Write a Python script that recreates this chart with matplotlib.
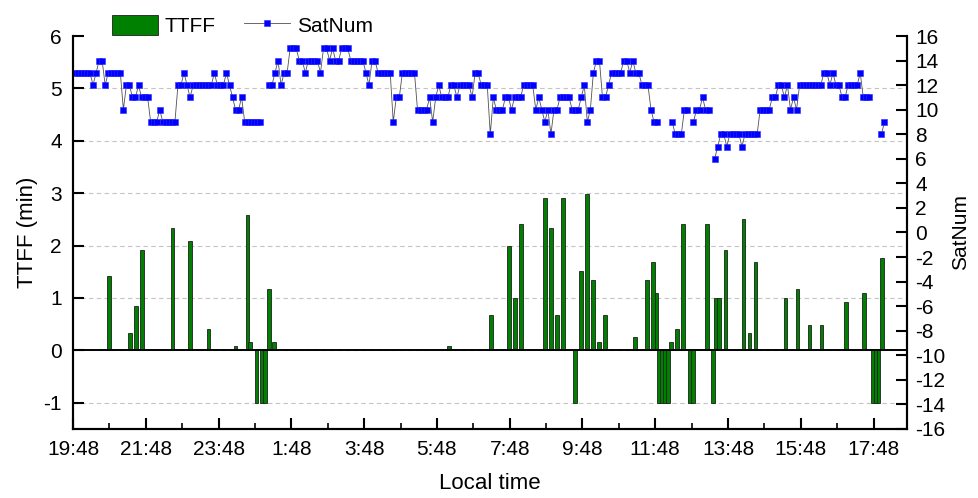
import numpy as np
import matplotlib.pyplot as plt
from matplotlib.ticker import MultipleLocator

plt.rcParams['font.family'] = ['Liberation Sans', 'DejaVu Sans']
plt.rcParams['axes.unicode_minus'] = False

# x axis: hours after 19:48 local time
tick_labels = ['19:48', '21:48', '23:48', '1:48', '3:48', '5:48', '7:48',
               '9:48', '11:48', '13:48', '15:48', '17:48']

# TTFF per fix attempt (min), -1 = no fix
ttff_time = [0.99, 1.57, 1.73, 1.90, 2.73, 3.22, 3.72, 4.46, 4.79, 4.87,
             5.04, 5.20, 5.28, 5.38, 5.53, 10.33, 11.48, 11.98, 12.14, 12.31,
             12.97, 13.13, 13.30, 13.46, 13.79, 13.96, 14.12, 14.29, 14.45, 14.62,
             15.45, 15.78, 15.94, 16.03, 16.11, 16.18, 16.26, 16.35, 16.44, 16.60,
             16.77, 16.95, 17.03, 17.43, 17.59, 17.67, 17.76, 17.93, 18.43, 18.59,
             18.76, 19.58, 19.91, 20.24, 20.57, 21.24, 21.73, 21.99, 22.06, 22.14,
             22.23]
ttff_min = [1.42, 0.33, 0.85, 1.91, 2.33, 2.08, 0.41, 0.08, 2.58, 0.16,
            -1, -1, -1, 1.18, 0.16, 0.08, 0.67, 1.99, 1.0, 2.42,
            2.9, 2.33, 0.67, 2.9, -1, 1.51, 2.99, 1.34, 0.16, 0.67,
            0.25, 1.34, 1.68, 1.09, -1, -1, -1, -1, 0.16, 0.40,
            2.42, -1, -1, 2.42, -1, 1.0, 1.0, 1.91, 2.5, 0.33,
            1.68, 1.0, 1.17, 0.49, 0.49, 0.92, 1.09, -1, -1, -1,
            1.76]

# satellites in view, one sample every 5 minutes from 19:51 (nan = no data)
nan = np.nan
sat_num = [13, 13, 13, 13, 13, 13, 12, 13, 14, 14,
           12, 13, 13, 13, 13, 13, 10, 12, 12, 11,
           11, 12, 11, 11, 11, 9, 9, 9, 10, 9,
           9, 9, 9, 9, 12, 12, 13, 12, 11, 12,
           12, 12, 12, 12, 12, 12, 13, 12, 12, 12,
           13, 12, 11, 10, 10, 11, 9, 9, 9, 9,
           9, 9, nan, nan, 12, 12, 13, 14, 12, 13,
           13, 15, 15, 15, 14, 14, 13, 14, 14, 14,
           14, 13, 15, 15, 14, 15, 14, 14, 15, 15,
           15, 14, 14, 14, 14, 14, 13, 12, 14, 14,
           13, 13, 13, 13, 13, 9, 11, 11, 13, 13,
           13, 13, 13, 10, 10, 10, 10, 11, 9, 11,
           12, 11, 11, 11, 12, 12, 11, 12, 12, 12,
           12, 11, 13, 13, 12, 12, 12, 8, 11, 10,
           10, 10, 11, 11, 10, 11, 11, 11, 12, 12,
           12, 12, 10, 11, 10, 9, 10, 8, 10, 10,
           11, 11, 11, 11, 10, 10, 10, 11, 12, 9,
           10, 13, 14, 14, 11, 11, 12, 13, 13, 13,
           13, 14, 14, 13, 14, 13, 13, 12, 12, 12,
           10, 9, 9, nan, nan, nan, nan, 9, 8, 8,
           8, 10, 10, nan, 9, 10, 10, 11, 10, 10,
           nan, 6, 7, 8, 8, 7, 8, 8, 8, 8,
           7, 8, 8, 8, 8, 8, 10, 10, 10, 10,
           11, 11, 12, 12, 11, 12, 10, 11, 10, 12,
           12, 12, 12, 12, 12, 12, 12, 13, 13, 12,
           13, 12, 12, 11, 11, 12, 12, 12, 12, 13,
           11, 11, 11, nan, nan, nan, 8, 9]
sat_start = 0.05
sat_step = 5 / 60.0
sat_time = sat_start + sat_step * np.arange(len(sat_num))

fig, ax1 = plt.subplots(figsize=(9.79, 4.98), dpi=100)
fig.subplots_adjust(left=0.0746, right=0.9265, bottom=0.1386, top=0.9277)

ax1.bar(ttff_time, ttff_min, width=0.1, color='#008000', edgecolor='#202020',
        linewidth=0.6, label='TTFF', zorder=3)
ax1.axhline(0, color='black', lw=1.4, zorder=4)
ax1.set_xlim(0, 22.92)
ax1.set_ylim(-1.5, 6)
ax1.set_yticks(range(-1, 7))
ax1.set_xticks(range(0, 23, 2))
ax1.set_xticklabels(tick_labels)
ax1.xaxis.set_minor_locator(MultipleLocator(1))
ax1.grid(axis='y', linestyle=(0, (4, 3)), color='#c4c4c4', lw=0.8, zorder=0)
ax1.set_axisbelow(True)
ax1.tick_params(which='major', direction='in', length=8, width=1.5, labelsize=15, pad=8)
ax1.tick_params(which='minor', direction='in', length=4, width=1.2)
ax1.set_ylabel('TTFF (min)', fontsize=16, labelpad=4)
ax1.set_xlabel('Local time', fontsize=16, labelpad=10)

ax2 = ax1.twinx()
ax2.plot(sat_time, sat_num, color='#505050', lw=0.6, marker='s', ms=4.2,
         mfc='#0000ff', mec='#2a2aff', mew=0.4, label='SatNum')
ax2.set_ylim(-16, 16)
ax2.set_yticks(range(-16, 17, 2))
ax2.tick_params(direction='in', length=8, width=1.5, labelsize=15, pad=6)
ax2.set_ylabel('SatNum', fontsize=15, labelpad=4)

for ax in (ax1, ax2):
    ax.spines['top'].set_visible(False)
    for s in ('left', 'right', 'bottom'):
        ax.spines[s].set_linewidth(1.5)

grid_lines = ax1.get_ygridlines()
grid_lines[-1].set_visible(False)

h1, l1 = ax1.get_legend_handles_labels()
h2, l2 = ax2.get_legend_handles_labels()
ax2.legend(h1 + h2, l1 + l2, loc='lower left', bbox_to_anchor=(0.047, 1.0),
           ncol=2, frameon=False, fontsize=15, handlelength=2.2, handleheight=1.1,
           handletextpad=0.3, columnspacing=1.4, numpoints=1, borderaxespad=0,
           borderpad=0)

plt.savefig('out.png', dpi=100)
